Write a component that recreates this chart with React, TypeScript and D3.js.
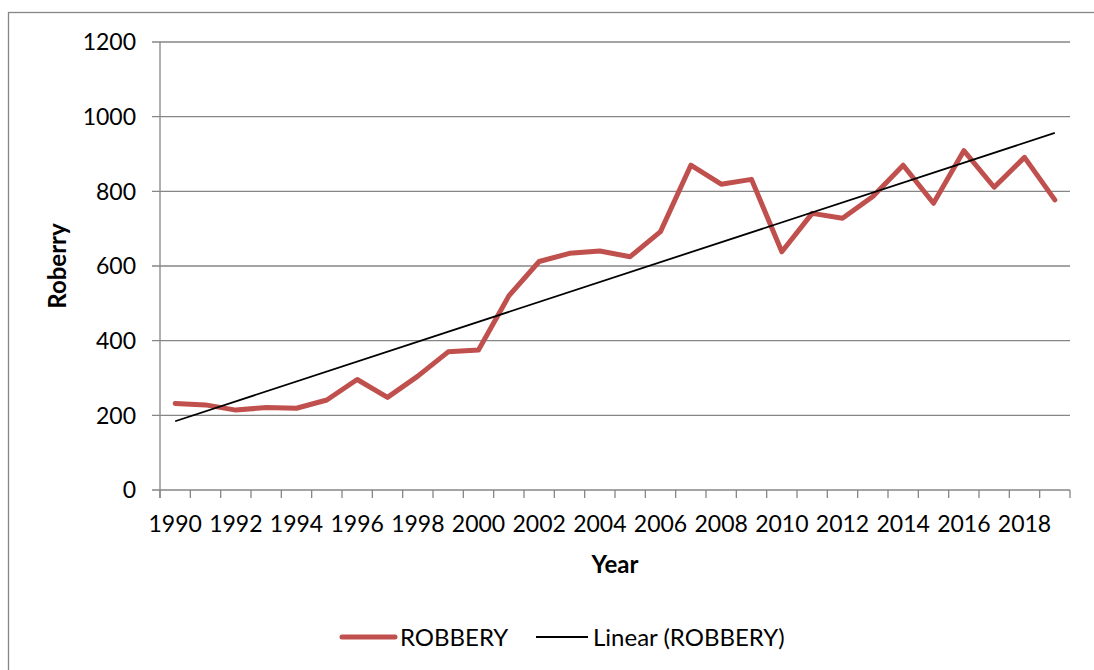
import * as d3 from 'd3'

const years = [
  1990, 1991, 1992, 1993, 1994, 1995, 1996, 1997, 1998, 1999,
  2000, 2001, 2002, 2003, 2004, 2005, 2006, 2007, 2008, 2009,
  2010, 2011, 2012, 2013, 2014, 2015, 2016, 2017, 2018, 2019,
]
const robbery = [
  232, 228, 214, 221, 219, 241, 296, 248, 305, 370,
  375, 520, 612, 634, 640, 625, 692, 870, 819, 832,
  638, 741, 728, 786, 870, 768, 909, 811, 891, 777,
]
const yTicks = [0, 200, 400, 600, 800, 1000, 1200]
const xLabelYears = years.filter((_, i) => i % 2 === 0)

const W = 1094
const H = 670
const plot = { left: 160, right: 1070, top: 42, bottom: 490 }
const FONT = 'Lato, "Open Sans", sans-serif'
const GRID = '#868686'
const RED = '#C0504D'

// least squares on the category index, like Excel's linear trendline
function linearFit(vals: number[]) {
  const n = vals.length
  const xm = d3.mean(vals, (_, i) => i) ?? 0
  const ym = d3.mean(vals) ?? 0
  let sxy = 0
  let sxx = 0
  vals.forEach((v, i) => {
    sxy += (i - xm) * (v - ym)
    sxx += (i - xm) * (i - xm)
  })
  const slope = sxy / sxx
  const icpt = ym - slope * xm
  return [icpt, icpt + slope * (n - 1)]
}

export default function App() {
  const x = d3.scaleBand<number>().domain(years).range([plot.left, plot.right])
  const y = d3.scaleLinear().domain([0, 1200]).range([plot.bottom, plot.top])
  const cx = (yr: number) => (x(yr) ?? 0) + x.bandwidth() / 2

  const line = d3.line<number>().x((_, i) => cx(years[i])).y(d => y(d))
  const [t0, t1] = linearFit(robbery)
  const first = years[0]
  const last = years[years.length - 1]

  const tickXs = years.map(yr => x(yr) ?? 0).concat([plot.right])

  return (
    <svg
      width={W}
      height={H}
      viewBox={`0 0 ${W} ${H}`}
      style={{ position: 'absolute', left: 0, top: 0, background: '#fff' }}
      fontFamily={FONT}
    >
      <rect x={8.5} y={12.5} width={W + 20} height={H + 20} fill="#fff" stroke={GRID} strokeWidth={1.3} />

      {/* gridlines + y ticks */}
      {yTicks.map(t => (
        <g key={t}>
          <line x1={plot.left - 8} x2={plot.right} y1={y(t)} y2={y(t)} stroke={GRID} strokeWidth={1.3} />
          <text x={136} y={y(t)} dy="0.36em" textAnchor="end" fontSize={23} fill="#000">{t}</text>
        </g>
      ))}

      {/* axes */}
      <line x1={plot.left} x2={plot.left} y1={plot.top} y2={plot.bottom + 8} stroke={GRID} strokeWidth={1.3} />
      {tickXs.map((tx, i) => (
        <line key={i} x1={tx} x2={tx} y1={plot.bottom} y2={plot.bottom + 8} stroke={GRID} strokeWidth={1.3} />
      ))}
      {xLabelYears.map(yr => (
        <text key={yr} x={cx(yr)} y={532} textAnchor="middle" fontSize={23} fill="#000">{yr}</text>
      ))}

      <text x={(plot.left + plot.right) / 2} y={573} textAnchor="middle" fontSize={24} fontWeight="bold" fill="#000">Year</text>
      <text
        transform={`translate(66,${(plot.top + plot.bottom) / 2}) rotate(-90)`}
        textAnchor="middle"
        fontSize={24}
        fontWeight="bold"
        fill="#000"
      >
        Roberry
      </text>

      {/* series */}
      <path d={line(robbery) ?? ''} fill="none" stroke={RED} strokeWidth={5} strokeLinejoin="round" strokeLinecap="round" />
      <line x1={cx(first)} x2={cx(last)} y1={y(t0)} y2={y(t1)} stroke="#000" strokeWidth={1.8} />

      {/* legend */}
      <line x1={342} x2={395} y1={637} y2={637} stroke={RED} strokeWidth={5} strokeLinecap="round" />
      <text x={400} y={637} dy="0.36em" fontSize={24} fill="#000">ROBBERY</text>
      <line x1={536} x2={588} y1={637} y2={637} stroke="#000" strokeWidth={1.8} />
      <text x={593} y={637} dy="0.36em" fontSize={24} fill="#000">Linear (ROBBERY)</text>
    </svg>
  )
}
